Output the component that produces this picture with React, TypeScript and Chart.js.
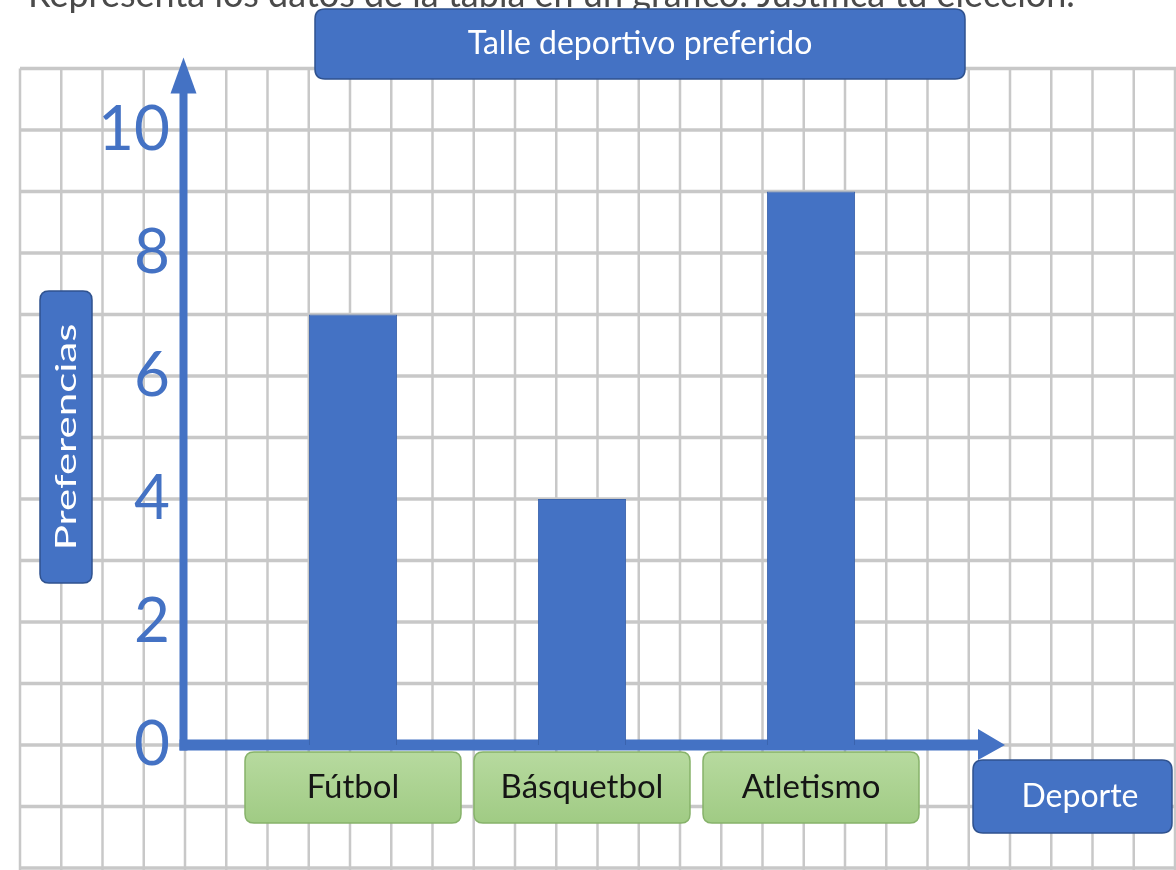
import { useEffect, useRef } from 'react';
import { Chart, registerables } from 'chart.js';

Chart.register(...registerables);

// ---- data ----
const categories = ['Fútbol', 'Básquetbol', 'Atletismo'];
const preferencias = [7, 4, 9];
const yTickLabels = ['0', '2', '4', '6', '8', '10'];
const yMin = 0;
const yMax = 11;
const chartTitle = 'Talle deportivo preferido';
const yAxisTitle = 'Preferencias';
const xAxisTitle = 'Deporte';
const instruction = 'Representa los datos de la tabla en un gráfico. Justifica tu elección.';

const BLUE = '#4472C4';
const BLUE_DARK = '#2F528F';
const FONT = "Lato, 'Open Sans', sans-serif";

function roundRect(ctx: CanvasRenderingContext2D, x: number, y: number, w: number, h: number, r: number) {
  ctx.beginPath();
  ctx.moveTo(x + r, y);
  ctx.lineTo(x + w - r, y);
  ctx.quadraticCurveTo(x + w, y, x + w, y + r);
  ctx.lineTo(x + w, y + h - r);
  ctx.quadraticCurveTo(x + w, y + h, x + w - r, y + h);
  ctx.lineTo(x + r, y + h);
  ctx.quadraticCurveTo(x, y + h, x, y + h - r);
  ctx.lineTo(x, y + r);
  ctx.quadraticCurveTo(x, y, x + r, y);
  ctx.closePath();
}

function blueBox(ctx: CanvasRenderingContext2D, x: number, y: number, w: number, h: number, r: number) {
  roundRect(ctx, x, y, w, h, r);
  ctx.fillStyle = BLUE;
  ctx.fill();
  ctx.lineWidth = 1.5;
  ctx.strokeStyle = BLUE_DARK;
  ctx.stroke();
}

const paperPlugin = {
  id: 'paper',
  beforeDraw(chart: any) {
    const { ctx, scales } = chart;
    const x = scales.x;
    const y = scales.y;
    ctx.save();
    ctx.fillStyle = '#ffffff';
    ctx.fillRect(0, 0, chart.width, chart.height);

    // instruction line (cut at the top)
    ctx.font = `36px ${FONT}`;
    ctx.fillStyle = '#4a4a4a';
    ctx.textBaseline = 'alphabetic';
    ctx.textAlign = 'left';
    ctx.fillText(instruction, 28, 7);

    // squared paper
    const top = y.getPixelForValue(yMax);
    ctx.strokeStyle = '#c8c8c8';
    ctx.lineWidth = 2.5;
    for (let k = 0; k <= 28; k++) {
      const px = 20 + k * 41.25;
      ctx.beginPath();
      ctx.moveTo(px, top);
      ctx.lineTo(px, chart.height);
      ctx.stroke();
    }
    ctx.lineWidth = 3.5;
    for (let v = yMin - 2; v <= yMax; v++) {
      const py = y.getPixelForValue(v);
      ctx.beginPath();
      ctx.moveTo(20, py);
      ctx.lineTo(chart.width, py);
      ctx.stroke();
    }

    // green boxes behind the category labels
    for (let i = 0; i < categories.length; i++) {
      const cx = x.getPixelForTick(i);
      roundRect(ctx, cx - 108, x.top + 7, 216, 71, 9);
      const g = ctx.createLinearGradient(0, x.top + 7, 0, x.top + 78);
      g.addColorStop(0, '#B7DA9F');
      g.addColorStop(1, '#A0CB84');
      ctx.fillStyle = g;
      ctx.fill();
      ctx.lineWidth = 1.5;
      ctx.strokeStyle = '#86B26A';
      ctx.stroke();
    }
    ctx.restore();
  },
  beforeDatasetsDraw(chart: any) {
    const { ctx, scales } = chart;
    const x = scales.x;
    const y = scales.y;
    const ax = x.left - 55;
    const ay = y.getPixelForValue(yMin);
    const top = y.getPixelForValue(yMax);
    ctx.save();
    ctx.fillStyle = BLUE;
    // vertical axis
    ctx.fillRect(ax - 4, top + 24, 8, ay + 5.5 - (top + 24));
    ctx.beginPath();
    ctx.moveTo(ax, top - 11);
    ctx.lineTo(ax + 13, top + 25);
    ctx.lineTo(ax - 13, top + 25);
    ctx.closePath();
    ctx.fill();
    // horizontal axis
    ctx.fillRect(ax - 4, ay - 5.5, 983 - (ax - 4), 11);
    ctx.beginPath();
    ctx.moveTo(1005, ay);
    ctx.lineTo(978, ay - 16);
    ctx.lineTo(978, ay + 15);
    ctx.closePath();
    ctx.fill();
    ctx.restore();
  },
  afterDraw(chart: any) {
    const { ctx } = chart;
    ctx.save();
    // title box
    blueBox(ctx, 315, 9, 650, 70, 10);
    ctx.fillStyle = '#ffffff';
    ctx.font = `32px ${FONT}`;
    ctx.textAlign = 'center';
    ctx.textBaseline = 'middle';
    ctx.fillText(chartTitle, 640, 44);

    // y axis title box
    blueBox(ctx, 40, 291, 52, 292, 9);
    ctx.save();
    ctx.translate(67, 437);
    ctx.rotate(-Math.PI / 2);
    ctx.scale(1.5, 1);
    ctx.fillStyle = '#ffffff';
    ctx.font = `28px ${FONT}`;
    ctx.textAlign = 'center';
    ctx.textBaseline = 'middle';
    ctx.fillText(yAxisTitle, 0, 0);
    ctx.restore();

    // x axis title box
    blueBox(ctx, 973, 760, 199, 73, 10);
    ctx.fillStyle = '#ffffff';
    ctx.font = `32px ${FONT}`;
    ctx.textAlign = 'center';
    ctx.textBaseline = 'middle';
    ctx.fillText(xAxisTitle, 1080, 797);
    ctx.restore();
  },
};

export default function App() {
  const ref = useRef<HTMLCanvasElement | null>(null);
  useEffect(() => {
    if (!ref.current) return;
    const chart = new Chart(ref.current, {
      type: 'bar',
      data: {
        labels: categories,
        datasets: [
          {
            label: yAxisTitle,
            data: preferencias,
            backgroundColor: BLUE,
            borderColor: '#3A63AC',
            borderWidth: 1,
            barPercentage: 0.385,
            categoryPercentage: 1,
          },
        ],
      },
      options: {
        responsive: false,
        animation: false,
        events: [],
        layout: { padding: { top: 68.5, right: 250.5, bottom: 0, left: 0 } },
        plugins: {
          legend: { display: false },
          title: { display: false },
          tooltip: { enabled: false },
        },
        scales: {
          x: {
            type: 'category',
            offset: true,
            grid: { display: false, drawTicks: false },
            border: { display: false },
            ticks: {
              color: '#151515',
              font: { family: FONT, size: 33 },
              padding: 23,
              maxRotation: 0,
              autoSkip: false,
            },
            afterFit: (s: any) => {
              s.height = 125;
              s.paddingLeft = 0;
              s.paddingRight = 0;
            },
          },
          y: {
            type: 'linear',
            min: yMin,
            max: yMax,
            grid: { display: false, drawTicks: false },
            border: { display: false },
            ticks: {
              stepSize: 1,
              autoSkip: false,
              color: BLUE,
              font: { family: FONT, size: 62, weight: 'normal' },
              padding: 68.5,
              callback: (v: any) => (yTickLabels.includes(String(v)) ? String(v) : ''),
            },
            afterFit: (s: any) => {
              s.width = 238.5;
              s.paddingTop = 0;
              s.paddingBottom = 0;
            },
          },
        },
      },
      plugins: [paperPlugin],
    });
    return () => chart.destroy();
  }, []);
  return (
    <div style={{ position: 'absolute', left: 0, top: 0, width: 1176, height: 870 }}>
      <canvas ref={ref} width={1176} height={870} style={{ display: 'block' }} />
    </div>
  );
}
